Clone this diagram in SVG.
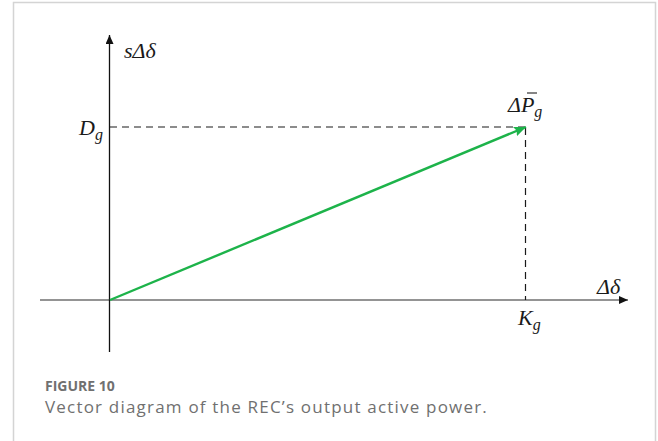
<svg xmlns="http://www.w3.org/2000/svg" width="658" height="441" viewBox="0 0 658 441">
<defs>
<style>
.lbl{font-family:"Liberation Serif",serif;font-style:italic;fill:#1a1a1a;font-size:22px;}
.sub{font-size:16px;}
.dash{stroke:#1a1a1a;stroke-width:1.2;stroke-dasharray:7,5;fill:none;}
.cap{font-family:"Open Sans","Liberation Sans",sans-serif;fill:#707070;}
</style>
<marker id="ahBlack" markerWidth="10" markerHeight="10" refX="9" refY="4" orient="auto" markerUnits="userSpaceOnUse"><path d="M0,0 L9,4 L0,8 Z" fill="#111"/></marker>
<marker id="ahGrey" markerWidth="10" markerHeight="10" refX="9" refY="4" orient="auto" markerUnits="userSpaceOnUse"><path d="M0,0 L9,4 L0,8 Z" fill="#111"/></marker>
<marker id="ahGreen" markerWidth="14" markerHeight="12" refX="12" refY="5" orient="auto" markerUnits="userSpaceOnUse"><path d="M0,0 L12,5 L0,10 L2,5 Z" fill="#1db34a"/></marker>
</defs>
<rect width="658" height="441" fill="#fff"/>
<path d="M13.5,441 V2.5 H655.5 V441" fill="none" stroke="#d4d4d4" stroke-width="1.5"/>
<g id="connectors">
<line x1="40" y1="300" x2="628" y2="300" stroke="#707070" stroke-width="1.6" marker-end="url(#ahGrey)"/>
<line x1="109.5" y1="352" x2="109.5" y2="35" stroke="#111" stroke-width="1.3" marker-end="url(#ahBlack)"/>
<line class="dash" x1="110" y1="127" x2="526" y2="127"/>
<line class="dash" x1="525.5" y1="128" x2="525.5" y2="300"/>
<line x1="110" y1="300" x2="526" y2="127" stroke="#1db34a" stroke-width="2.4" marker-end="url(#ahGreen)"/>
</g>
<g id="label-sdd"><text class="lbl" x="124" y="58">sΔδ</text></g>
<g id="label-Dg"><text class="lbl" x="79" y="135">D<tspan class="sub" dy="5">g</tspan></text></g>
<g id="label-Pg"><text class="lbl" x="508" y="112">ΔP<tspan class="sub" dy="5">g</tspan></text><line x1="527" y1="93" x2="537" y2="93" stroke="#333" stroke-width="1.2"/></g>
<g id="label-dd"><text class="lbl" x="597" y="294">Δδ</text></g>
<g id="label-Kg"><text class="lbl" x="518" y="325">K<tspan class="sub" dy="5">g</tspan></text></g>
<g id="caption">
<text class="cap" x="45" y="391" font-size="14" font-weight="bold">FIGURE 10</text>
<text class="cap" x="45" y="413" font-size="17" letter-spacing="1.2">Vector diagram of the REC’s output active power.</text>
</g>
</svg>
